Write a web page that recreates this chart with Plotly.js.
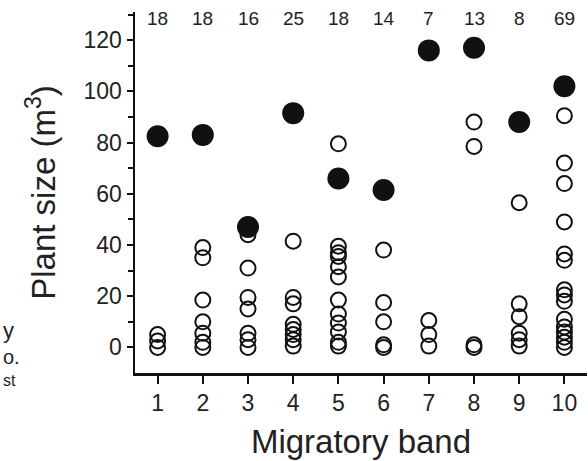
<!DOCTYPE html>
<html>
<head>
<meta charset="utf-8">
<script src="https://cdn.plot.ly/plotly-3.0.1.min.js"></script>
<style>html,body{margin:0;padding:0;background:#fff;}#chart{width:588px;height:461px;}</style>
</head>
<body>
<div id="chart"></div>
<script>
// Migratory bands
const bands = [1, 2, 3, 4, 5, 6, 7, 8, 9, 10];
// Sample sizes shown above each band
const counts = [18, 18, 16, 25, 18, 14, 7, 13, 8, 69];
// Filled circles (one per band)
const filledSize = [82.5, 83, 47, 91.5, 66, 61.5, 116, 117, 88, 102];
// Open circles per band
const open1 = [5, 2.5, 0];
const open2 = [39, 35, 18.5, 10, 5.5, 2, 0];
const open3 = [44, 31, 19.5, 15, 5.5, 3, 0];
const open4 = [41.5, 19.5, 17, 9, 7, 5, 3, 0.5];
const open5 = [79.5, 39.5, 37, 35.5, 31.5, 27.5, 18.5, 13, 9.5, 6, 2, 0.5];
const open6 = [38, 17.5, 10, 1, 0];
const open7 = [10.5, 5, 0.5];
const open8 = [88, 78.5, 1, 0];
const open9 = [56.5, 17, 12, 5.5, 3, 0.5];
const open10 = [90.5, 72, 64, 49, 36.5, 34, 22.5, 20.5, 18, 11, 8, 6, 4, 2, 0];
const openGroups = [open1, open2, open3, open4, open5, open6, open7, open8, open9, open10];

const ox = [], oy = [];
openGroups.forEach((g, i) => g.forEach(v => { ox.push(bands[i]); oy.push(v); }));

const traces = [
  {
    type: 'scatter', mode: 'markers', x: ox, y: oy,
    marker: {symbol: 'circle-open', size: 15, color: '#111', line: {width: 2, color: '#111'}},
    hoverinfo: 'skip', showlegend: false, cliponaxis: false
  },
  {
    type: 'scatter', mode: 'markers', x: bands, y: filledSize,
    marker: {symbol: 'circle', size: 22, color: '#111', line: {width: 0}},
    hoverinfo: 'skip', showlegend: false, cliponaxis: false
  }
];

const fam = 'Liberation Sans, Arial, sans-serif';
const annotations = bands.map((b, i) => ({
  x: b, y: 128.5, xref: 'x', yref: 'y', text: String(counts[i]),
  showarrow: false, font: {family: fam, size: 19, color: '#222'}
}));
// text fragments at the left edge
annotations.push({xref: 'paper', yref: 'paper', x: (1 - 135) / 452, y: (373 - 330) / 361, xanchor: 'left', yanchor: 'middle', text: 'y', showarrow: false, font: {family: fam, size: 22, color: '#222'}});
annotations.push({xref: 'paper', yref: 'paper', x: (1 - 135) / 452, y: (373 - 357) / 361, xanchor: 'left', yanchor: 'middle', text: 'o.', showarrow: false, font: {family: fam, size: 20, color: '#222'}});
annotations.push({xref: 'paper', yref: 'paper', x: (1 - 135) / 452, y: (373 - 380) / 361, xanchor: 'left', yanchor: 'middle', text: 'st', showarrow: false, font: {family: fam, size: 16, color: '#222'}});

const layout = {
  width: 588, height: 461,
  margin: {l: 135, r: 1, t: 12, b: 88},
  paper_bgcolor: '#fff', plot_bgcolor: '#fff',
  font: {family: fam, color: '#222'},
  showlegend: false,
  xaxis: {
    range: [0.5, 10.5], tickvals: bands, ticktext: bands.map(String),
    showgrid: false, zeroline: false, showline: true, linecolor: '#111', linewidth: 2.5,
    ticks: 'outside', ticklen: 8, tickwidth: 2, tickcolor: '#111',
    tickfont: {family: fam, size: 23, color: '#222'},
    title: {text: 'Migratory band', font: {family: fam, size: 33, color: '#222'}, standoff: 15}
  },
  yaxis: {
    range: [-10, 131], tickvals: [0, 20, 40, 60, 80, 100, 120],
    showgrid: false, zeroline: false, showline: true, linecolor: '#111', linewidth: 2.5,
    ticks: 'outside', ticklen: 6, tickwidth: 2, tickcolor: '#111',
    minor: {tickvals: [10, 30, 50, 70, 90, 110, 130], ticks: 'outside', ticklen: 5, tickwidth: 2, tickcolor: '#111', showgrid: false},
    tickfont: {family: fam, size: 23, color: '#222'},
    title: {text: 'Plant size (m<sup>3</sup>)', font: {family: fam, size: 33, color: '#222'}, standoff: 18}
  },
  annotations: annotations
};

Plotly.newPlot('chart', traces, layout, {staticPlot: true, displayModeBar: false});
</script>
</body>
</html>
